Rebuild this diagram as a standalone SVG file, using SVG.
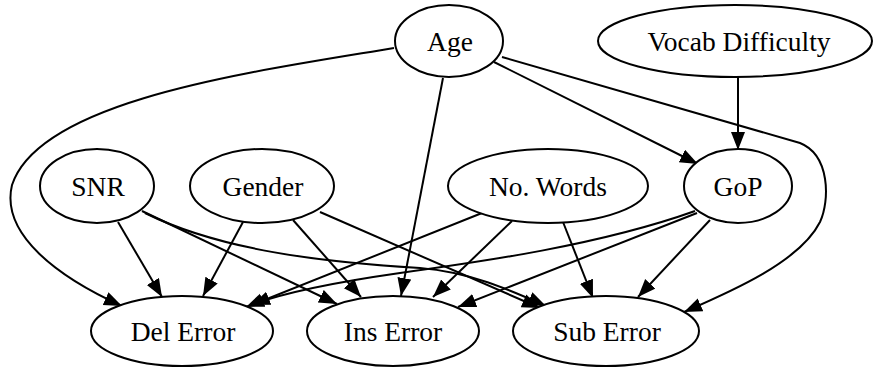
<svg xmlns="http://www.w3.org/2000/svg" width="873" height="370" viewBox="0 0 873 370">
<style>
.n ellipse{fill:#fff;stroke:#000;stroke-width:2}
.n text{font-family:"Liberation Serif","Times New Roman",serif;font-size:27.5px;text-anchor:middle;fill:#000}
.e path{fill:none;stroke:#000;stroke-width:2;marker-end:url(#ah)}
</style>
<defs>
<marker id="ah" markerUnits="userSpaceOnUse" markerWidth="20" markerHeight="16" refX="18" refY="7" orient="auto">
<path d="M0,0 L18,7 L0,14 z" fill="#000"/>
</marker>
</defs>
<rect width="873" height="370" fill="#fff"/>
<g class="e" id="connectors">
<path d="M394,48 C 250,72 40,100 12,185 C 0,235 60,278 122,306"/>
<path d="M443,78 L401,296"/>
<path d="M494,62 L698,164"/>
<path d="M502,57 L800,143 C 830,155 830,200 820,222 C 800,262 730,292 684,312"/>
<path d="M738,77 L738,150"/>
<path d="M118,222 L162,297"/>
<path d="M142,211 L337,304"/>
<path d="M145,213 C 220,250 320,262 420,268 C 470,272 510,290 546,306"/>
<path d="M243,222 L203,296"/>
<path d="M293,220 L361,297"/>
<path d="M320,212 L540,308"/>
<path d="M482,213 L252,305"/>
<path d="M512,221 L433,297"/>
<path d="M563,222 L593,298"/>
<path d="M695,211 C 600,245 480,262 400,273 C 330,283 280,293 246,307"/>
<path d="M697,213 L458,307"/>
<path d="M710,220 L638,297"/>
</g>
<g class="n" id="age"><ellipse cx="449" cy="41" rx="54" ry="36"/><text x="450" y="51">Age</text></g>
<g class="n" id="vocab"><ellipse cx="735" cy="41" rx="137" ry="36"/><text x="739" y="51">Vocab Difficulty</text></g>
<g class="n" id="snr"><ellipse cx="97" cy="186" rx="57" ry="37"/><text x="98" y="196">SNR</text></g>
<g class="n" id="gender"><ellipse cx="262" cy="186" rx="72" ry="37"/><text x="263" y="196">Gender</text></g>
<g class="n" id="nowords"><ellipse cx="548" cy="186" rx="100" ry="37"/><text x="548" y="196">No. Words</text></g>
<g class="n" id="gop"><ellipse cx="738" cy="186" rx="54" ry="37"/><text x="738" y="196">GoP</text></g>
<g class="n" id="del"><ellipse cx="182" cy="331" rx="91" ry="35"/><text x="183" y="341">Del Error</text></g>
<g class="n" id="ins"><ellipse cx="393" cy="331" rx="86" ry="35"/><text x="393" y="341">Ins Error</text></g>
<g class="n" id="sub"><ellipse cx="606" cy="331" rx="93" ry="35"/><text x="607" y="341">Sub Error</text></g>
</svg>
